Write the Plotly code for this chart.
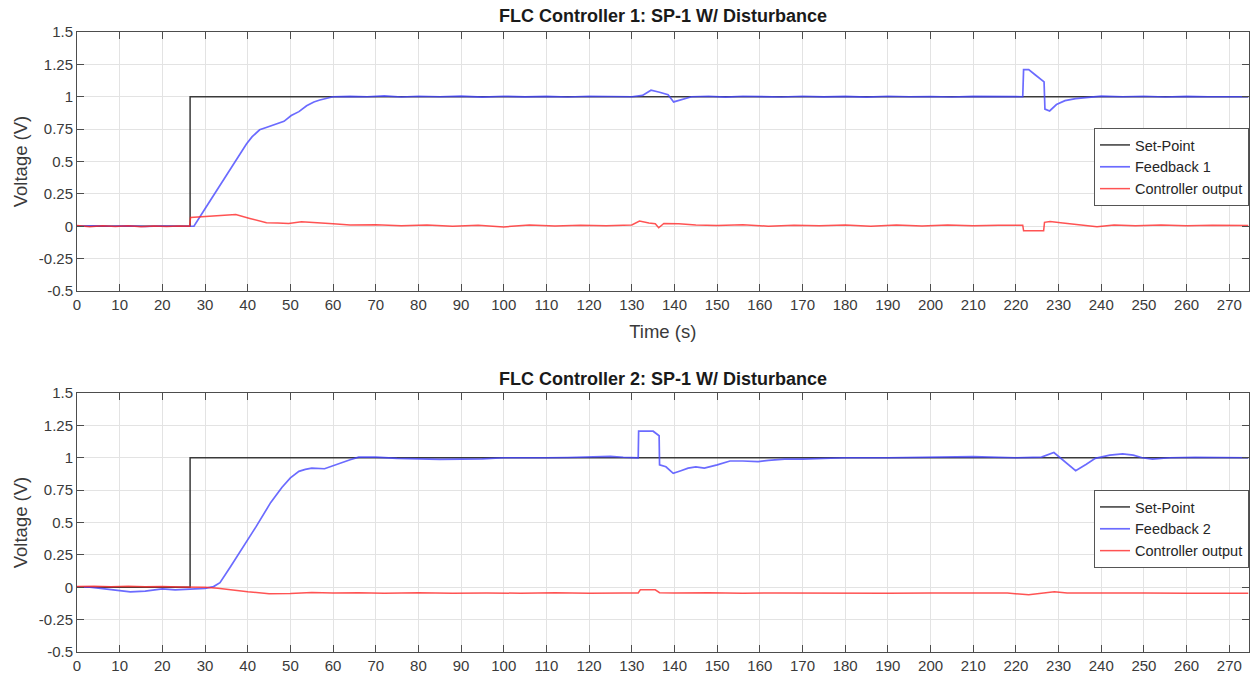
import plotly.graph_objects as go

# ---------------- data ----------------
sp1_t = [0, 26.5, 26.5, 274.5]
sp1_v = [0, 0, 1, 1]

fb1_t = [0, 4, 8, 12, 16, 20, 24, 27.4, 30, 33, 36, 38, 39.7, 41, 42.8, 44.5, 46.7, 48.5, 50.2, 52, 53.8, 55.5, 56.9, 58.5, 60,
         64, 68, 72, 76, 80, 85, 90, 95, 100, 105, 110, 115, 120, 125, 130, 132.5, 134.5, 136.5, 138.5, 139.8, 141.5, 144,
         148, 152, 156, 160, 165, 170, 175, 180, 185, 190, 195, 200, 205, 210, 215, 221.6, 221.8, 223, 224.5, 226.6, 226.8,
         227.9, 229.5, 231.5, 234, 237, 240, 245, 250, 255, 260, 265, 270, 274.5]
fb1_v = [0.0, 0.004, 0.0, 0.003, -0.002, 0.002, 0.0, 0.0, 0.135, 0.29, 0.445, 0.55, 0.635, 0.69, 0.745, 0.765, 0.79, 0.81, 0.855, 0.885, 0.93, 0.96, 0.975, 0.99, 1.0,
         1.003, 1.0, 1.006, 0.998, 1.004, 1.0, 1.005, 0.997, 1.004, 0.999, 1.003, 0.998, 1.004, 1.0, 1.0, 1.01, 1.05, 1.035, 1.015, 0.96, 0.975, 1.0,
         1.004, 0.997, 1.004, 1.0, 0.998, 1.004, 0.999, 1.003, 0.997, 1.004, 1.0, 1.002, 0.998, 1.003, 1.0, 1.0, 1.21, 1.21, 1.17, 1.115, 0.905,
         0.89, 0.94, 0.97, 0.985, 0.995, 1.005, 1.0, 1.004, 0.998, 1.003, 1.0, 1.002, 1.0]

co1_t = [0, 3, 6, 9, 12, 15, 18, 21, 24, 26.4, 26.6, 30, 34, 37.2, 40.5, 44.4, 47, 49.6, 52.6, 56, 60, 64, 70, 76, 82, 88,
         94, 100, 106, 112, 118, 124, 130, 131.8, 132.5, 134, 135.5, 136.3, 137.5, 141, 145, 150, 156, 162, 168, 174, 180,
         186, 192, 198, 204, 210, 216, 221.6, 221.8, 226.5, 226.7, 228, 231, 235, 239, 243, 248, 254, 260, 266, 272, 274.5]
co1_v = [0.005, -0.003, 0.004, -0.002, 0.003, -0.003, 0.002, -0.002, 0.002, 0.0, 0.067, 0.075, 0.08, 0.09, 0.06, 0.027, 0.025, 0.022, 0.035, 0.03, 0.02, 0.01, 0.012, 0.004, 0.01, 0.0,
         0.008, -0.005, 0.01, 0.002, 0.008, 0.003, 0.01, 0.04, 0.035, 0.025, 0.02, -0.012, 0.022, 0.02, 0.01, 0.005, 0.012, 0.0, 0.008, 0.003, 0.01,
         0.0, 0.009, 0.002, 0.01, 0.004, 0.008, 0.008, -0.034, -0.034, 0.03, 0.037, 0.025, 0.012, -0.003, 0.01, 0.004, 0.01, 0.003, 0.008, 0.004, 0.006]

sp2_t = [0, 26.5, 26.5, 274.5]
sp2_v = [0, 0, 1, 1]

fb2_t = [0, 3, 6, 9, 12.5, 16, 20, 23, 27, 30, 32, 33.5, 36, 39, 42, 45.4, 48, 50, 52, 53.5, 55, 58, 60, 62, 64, 66, 70,
         75, 80, 85, 90, 95, 100, 105, 110, 115, 120, 125, 128, 131.5, 131.6, 135, 136.4, 136.5, 138, 139.7, 141.5, 143.2,
         145, 147, 150, 153, 156, 159.6, 162, 165.8, 170, 175, 180, 190, 200, 210, 220, 226, 228.9, 231, 234, 236.5, 238.6,
         242, 245, 247.5, 249.6, 252, 256, 262, 268, 274.5]
fb2_v = [0.0, 0.0, -0.01, -0.02, -0.035, -0.03, -0.012, -0.02, -0.012, -0.008, 0.005, 0.035, 0.16, 0.31, 0.47, 0.655, 0.77, 0.845, 0.895, 0.91, 0.92, 0.915, 0.94, 0.96, 0.985, 1.005, 1.005,
         0.995, 0.99, 0.988, 0.99, 0.992, 1.0, 0.998, 1.0, 1.002, 1.008, 1.01, 1.004, 1.0, 1.205, 1.205, 1.17, 0.945, 0.93, 0.88, 0.9, 0.92,
         0.93, 0.92, 0.945, 0.975, 0.975, 0.97, 0.98, 0.99, 0.99, 0.995, 1.0, 1.0, 1.005, 1.008, 1.0, 1.005, 1.04, 0.985, 0.9, 0.95, 0.995,
         1.02, 1.03, 1.02, 1.0, 0.99, 1.0, 1.004, 1.0, 1.0]

co2_t = [0, 4, 8, 12, 16, 20, 24, 28, 30, 33, 36, 40, 45, 50, 55, 60, 66, 72, 80, 88, 96, 104, 112, 120, 128, 131.5, 132,
         135.5, 136.5, 140, 148, 156, 164, 172, 180, 190, 200, 210, 218, 223, 226, 229, 232, 240, 250, 260, 268, 274.5]
co2_v = [0.005, 0.008, 0.004, 0.007, 0.003, 0.006, 0.002, 0.004, 0.0, -0.008, -0.02, -0.035, -0.05, -0.048, -0.04, -0.045, -0.042, -0.046, -0.043, -0.047, -0.044, -0.046, -0.042, -0.047, -0.045, -0.044, -0.02,
         -0.02, -0.042, -0.045, -0.043, -0.047, -0.044, -0.046, -0.043, -0.046, -0.044, -0.047, -0.045, -0.058, -0.048, -0.035, -0.045, -0.047, -0.044, -0.046, -0.043, -0.046]

x_ticks = list(range(0, 271, 10))
y_ticks = [-0.5, -0.25, 0, 0.25, 0.5, 0.75, 1, 1.25, 1.5]
y_tick_text = ["-0.5", "-0.25", "0", "0.25", "0.5", "0.75", "1", "1.25", "1.5"]

titles = ["FLC Controller 1: SP-1 W/ Disturbance", "FLC Controller 2: SP-1 W/ Disturbance"]

# ---------------- figure ----------------
W, H = 1256, 681
FONT = "Liberation Sans, Arial, sans-serif"
C_SP = "#3a3a3a"
C_FB = "rgba(70,70,255,0.8)"
C_CO = "rgba(255,40,40,0.8)"

fig = go.Figure()

fig.add_trace(go.Scatter(x=sp1_t, y=sp1_v, mode="lines", name="Set-Point", line=dict(color=C_SP, width=1.5),
                         xaxis="x", yaxis="y", legend="legend"))
fig.add_trace(go.Scatter(x=fb1_t, y=fb1_v, mode="lines", name="Feedback 1", line=dict(color=C_FB, width=1.7),
                         xaxis="x", yaxis="y", legend="legend"))
fig.add_trace(go.Scatter(x=co1_t, y=co1_v, mode="lines", name="Controller output", line=dict(color=C_CO, width=1.5),
                         xaxis="x", yaxis="y", legend="legend"))

fig.add_trace(go.Scatter(x=sp2_t, y=sp2_v, mode="lines", name="Set-Point", line=dict(color=C_SP, width=1.5),
                         xaxis="x2", yaxis="y2", legend="legend2"))
fig.add_trace(go.Scatter(x=fb2_t, y=fb2_v, mode="lines", name="Feedback 2", line=dict(color=C_FB, width=1.7),
                         xaxis="x2", yaxis="y2", legend="legend2"))
fig.add_trace(go.Scatter(x=co2_t, y=co2_v, mode="lines", name="Controller output", line=dict(color=C_CO, width=1.5),
                         xaxis="x2", yaxis="y2", legend="legend2"))

xdom = [77 / W, 1248.5 / W]
top_dom = [1 - 291 / H, 1 - 32 / H]
bot_dom = [1 - 652 / H, 1 - 393 / H]

axis_common = dict(
    showline=True, linecolor="#4d4d4d", linewidth=1, mirror="ticks",
    ticks="inside", ticklen=7, tickcolor="#4d4d4d", tickwidth=1,
    showgrid=True, gridcolor="#e3e3e3", gridwidth=1, zeroline=False,
    tickfont=dict(family=FONT, size=15, color="#3a3a3a"),
    automargin=False,
)

xa = dict(axis_common, range=[0, 274.5], tickvals=x_ticks, domain=xdom)
ya = dict(axis_common, range=[-0.5, 1.5], tickvals=y_ticks, ticktext=y_tick_text)
ya_title = dict(text="Voltage (V)", font=dict(family=FONT, size=18.5, color="#3a3a3a"), standoff=6)

legend_common = dict(xanchor="right", yanchor="top", xref="paper", yref="paper",
                     bgcolor="white", bordercolor="#555555", borderwidth=1,
                     font=dict(family=FONT, size=14.5, color="#262626"), tracegroupgap=0,
                     itemwidth=30)

fig.update_layout(
    width=W, height=H,
    margin=dict(l=0, r=0, t=0, b=0, autoexpand=False),
    paper_bgcolor="white", plot_bgcolor="white",
    xaxis=dict(xa, anchor="y",
               title=dict(text="Time (s)", font=dict(family=FONT, size=18.5, color="#3a3a3a"), standoff=13)),
    yaxis=dict(ya, domain=top_dom, anchor="x", title=ya_title),
    xaxis2=dict(xa, anchor="y2"),
    yaxis2=dict(ya, domain=bot_dom, anchor="x2", title=ya_title),
    legend=dict(legend_common, x=1249 / W, y=1 - 128 / H),
    legend2=dict(legend_common, x=1249 / W, y=1 - 490 / H),
    showlegend=True,
)

for title, ypix in zip(titles, [16, 379]):
    fig.add_annotation(text="<b>" + title + "</b>", xref="paper", yref="paper",
                       x=(77 + 1248.5) / 2 / W, y=1 - ypix / H, xanchor="center", yanchor="middle",
                       showarrow=False, font=dict(family=FONT, size=18, color="#1a1a1a"))

fig.write_html("out.html", config={"displayModeBar": False},
               post_script="document.body.style.margin='0';document.body.style.overflow='hidden';")
